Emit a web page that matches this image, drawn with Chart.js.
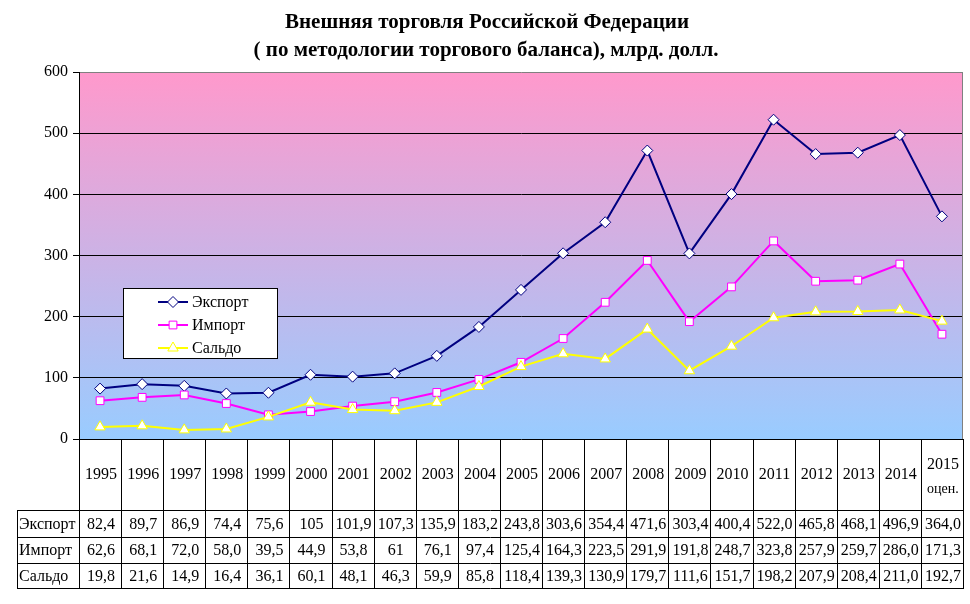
<!DOCTYPE html>
<html>
<head>
<meta charset="utf-8">
<script src="https://cdn.jsdelivr.net/npm/chart.js@4/dist/chart.umd.min.js"></script>
<style>
html,body{margin:0;padding:0;background:#fff;}
#wrap{width:970px;height:604px;position:relative;}
</style>
</head>
<body>
<div id="wrap"><canvas id="c" width="970" height="604"></canvas></div>
<script>
const titleLines = ["Внешняя торговля Российской Федерации", "( по методологии торгового баланса), млрд. долл."];
const years = ["1995","1996","1997","1998","1999","2000","2001","2002","2003","2004","2005","2006","2007","2008","2009","2010","2011","2012","2013","2014","2015"];
const yearNotes = ["","","","","","","","","","","","","","","","","","","","","оцен."];
const seriesNames = ["Экспорт","Импорт","Сальдо"];
const exportVals = ["82,4","89,7","86,9","74,4","75,6","105","101,9","107,3","135,9","183,2","243,8","303,6","354,4","471,6","303,4","400,4","522,0","465,8","468,1","496,9","364,0"];
const importVals = ["62,6","68,1","72,0","58,0","39,5","44,9","53,8","61","76,1","97,4","125,4","164,3","223,5","291,9","191,8","248,7","323,8","257,9","259,7","286,0","171,3"];
const saldoVals  = ["19,8","21,6","14,9","16,4","36,1","60,1","48,1","46,3","59,9","85,8","118,4","139,3","130,9","179,7","111,6","151,7","198,2","207,9","208,4","211,0","192,7"];
const yTicks = [0,100,200,300,400,500,600];

const num = a => a.map(s => parseFloat(s.replace(',', '.')));
const tableRows = [exportVals, importVals, saldoVals];

const SERIF = "'Liberation Serif','Times New Roman',serif";

const styles = [
  {color:'#000080', point:'rectRot', r:5.5, fill:'#ffffff'},
  {color:'#ff00ff', point:'rect', r:5.5, fill:'#ffffff'},
  {color:'#ffff00', point:'triangle', r:6, fill:'#ffffff'}
];

const bgPlugin = {
  id:'bg',
  beforeDraw(chart){
    const {ctx, chartArea:a} = chart;
    const g = ctx.createLinearGradient(0, a.top, 0, a.bottom);
    g.addColorStop(0, '#ff99cc');
    g.addColorStop(1, '#99ccff');
    ctx.save();
    ctx.fillStyle = g;
    ctx.fillRect(a.left, a.top, a.right - a.left, a.bottom - a.top);
    ctx.restore();
  },
  afterDatasetsDraw(chart){
    const {ctx, chartArea:a} = chart;
    ctx.save();
    ctx.strokeStyle = '#808080';
    ctx.lineWidth = 1;
    ctx.beginPath();
    ctx.moveTo(Math.round(a.right)-0.5, a.top);
    ctx.lineTo(Math.round(a.right)-0.5, a.bottom);
    ctx.stroke();
    ctx.restore();
  }
};

const extrasPlugin = {
  id:'extras',
  afterDraw(chart){
    const {ctx, chartArea:a} = chart;
    const xs = chart.scales.x;
    ctx.save();
    // Title
    ctx.fillStyle = '#000';
    ctx.textAlign = 'center';
    ctx.textBaseline = 'middle';
    ctx.font = 'bold 21px ' + SERIF;
    ctx.fillText(titleLines[0], 487, 23);
    ctx.fillText(titleLines[1], 486, 51);

    // Table
    const n = years.length;
    const step = (xs.getPixelForValue(1) - xs.getPixelForValue(0));
    const bounds = [];
    for (let i = 0; i <= n; i++) bounds.push(xs.getPixelForValue(0) - step/2 + i*step);
    const top = Math.round(a.bottom);
    const hdrBottom = 510;
    const rowYs = [hdrBottom, 537, 563, 588];
    const tableLeft = 17;
    ctx.strokeStyle = '#000';
    ctx.lineWidth = 1;
    ctx.beginPath();
    for (let i = 0; i <= n; i++) {
      const x = Math.round(bounds[i]) + 0.5;
      ctx.moveTo(x, top); ctx.lineTo(x, rowYs[3]);
    }
    ctx.moveTo(tableLeft + 0.5, hdrBottom); ctx.lineTo(tableLeft + 0.5, rowYs[3]);
    for (let j = 0; j < rowYs.length; j++) {
      const y = rowYs[j] + 0.5;
      ctx.moveTo(tableLeft, y); ctx.lineTo(Math.round(bounds[n]) + 1, y);
    }
    ctx.stroke();

    ctx.fillStyle = '#000';
    ctx.textAlign = 'center';
    ctx.textBaseline = 'middle';
    for (let i = 0; i < n; i++) {
      const cx = (bounds[i] + bounds[i+1]) / 2;
      if (yearNotes[i]) {
        ctx.font = '16px ' + SERIF;
        ctx.fillText(years[i], cx + 1, 465);
        ctx.font = '14px ' + SERIF;
        ctx.fillText(yearNotes[i], cx + 1, 489);
      } else {
        ctx.font = '16px ' + SERIF;
        ctx.fillText(years[i], cx + 1, 475);
      }
      ctx.font = '16px ' + SERIF;
      for (let r = 0; r < 3; r++) {
        const cy = (rowYs[r] + rowYs[r+1]) / 2 + 1;
        ctx.fillText(tableRows[r][i], cx + 1, cy);
      }
    }
    ctx.textAlign = 'left';
    for (let r = 0; r < 3; r++) {
      const cy = (rowYs[r] + rowYs[r+1]) / 2 + 1;
      ctx.fillText(seriesNames[r], tableLeft + 2, cy);
    }

    // Legend
    const lx = 123, ly = 288, lw = 154, lh = 70;
    ctx.fillStyle = '#fff';
    ctx.fillRect(lx, ly, lw, lh);
    ctx.strokeStyle = '#000';
    ctx.strokeRect(lx + 0.5, ly + 0.5, lw, lh);
    const legYs = [302, 325, 348];
    for (let r = 0; r < 3; r++) {
      const st = styles[r];
      const y = legYs[r];
      ctx.strokeStyle = st.color;
      ctx.lineWidth = 2;
      ctx.beginPath();
      ctx.moveTo(158, y); ctx.lineTo(188, y);
      ctx.stroke();
      ctx.fillStyle = st.fill;
      ctx.strokeStyle = st.color;
      ctx.lineWidth = 1;
      Chart.helpers.drawPoint(ctx, {pointStyle: st.point, radius: st.r, borderWidth: 1}, 173, y);
      ctx.fillStyle = '#000';
      ctx.font = '16px ' + SERIF;
      ctx.textAlign = 'left';
      ctx.fillText(seriesNames[r], 192, y + 1);
    }
    ctx.restore();
  }
};

const dataSets = [exportVals, importVals, saldoVals].map((vals, k) => ({
  label: seriesNames[k],
  data: num(vals),
  borderColor: styles[k].color,
  backgroundColor: styles[k].fill,
  borderWidth: 2,
  pointStyle: styles[k].point,
  pointRadius: styles[k].r,
  pointBorderWidth: 1,
  pointBackgroundColor: styles[k].fill,
  pointBorderColor: styles[k].color,
  tension: 0,
  fill: false,
  order: 3 - k
}));

new Chart(document.getElementById('c'), {
  type: 'line',
  data: { labels: years, datasets: dataSets },
  options: {
    responsive: false,
    animation: false,
    devicePixelRatio: 1,
    layout: { padding: { top: 72, right: 4, bottom: 165, left: 0 } },
    plugins: { legend: { display: false }, title: { display: false }, tooltip: { enabled: false } },
    scales: {
      x: { type: 'category', offset: true, display: false },
      y: {
        min: yTicks[0], max: yTicks[yTicks.length - 1],
        afterFit(scale){ scale.width = 79; },
        afterBuildTicks(scale){ scale.ticks = yTicks.map(v => ({value: v})); },
        ticks: { color: '#000', font: { family: SERIF, size: 16 }, padding: 5 },
        grid: {
          color: ctx => (ctx.tick && ctx.tick.value === yTicks[yTicks.length - 1]) ? '#808080' : '#000',
          tickColor: '#000', tickLength: 6, lineWidth: 1
        },
        border: { display: true, color: '#000', width: 1 }
      }
    }
  },
  plugins: [bgPlugin, extrasPlugin]
});
</script>
</body>
</html>
